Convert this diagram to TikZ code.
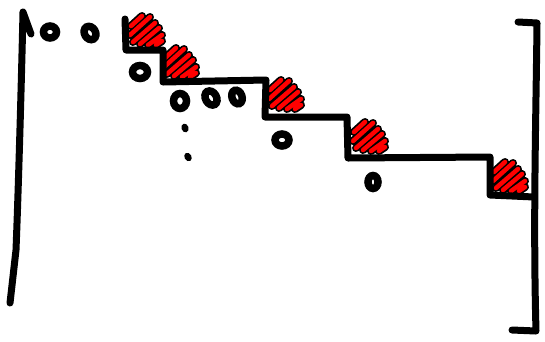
\documentclass[tikz,border=0pt]{standalone}
\tikzset{
  ink/.style={line width=7pt, line cap=round, line join=round, black},
  zero/.style={line width=7.5pt, black},
  hatch/.style={line width=4.5pt, red, line cap=round, preaction={draw=black, line width=8pt, line cap=round}},
  dot/.style={fill=black}
}
\newcommand{\myblob}[2]{%
  \begin{scope}[shift={(#1,#2)}]
    \draw[hatch] (4,12)--(15,2) (3,21)--(23,3) (6,28)--(28,9) (13,30)--(32,14) (21,31)--(35,21) (29,31)--(35,27);
  \end{scope}}
\begin{document}
\begin{tikzpicture}[x=1pt,y=-1pt]
\useasboundingbox (0,0) rectangle (545,341);
% left bracket
\draw[ink] (31,34) -- (23,12) .. controls (21,100) and (18,200) .. (16,250) -- (10,303);
% right bracket
\draw[ink] (518,22) -- (537,23) .. controls (536,120) and (533,220) .. (536,331) -- (512,330);
% red blobs (drawn first, staircase on top)
\myblob{127}{14}
\myblob{161}{46}
\myblob{266}{78}
\myblob{350}{120}
\myblob{490}{160}
% staircase
\coordinate (s0) at (125,19);
\coordinate (s1) at (126,50);
\coordinate (s2) at (163,50);
\coordinate (s3) at (163,82);
\coordinate (s4) at (266,80);
\coordinate (s5) at (265,117);
\coordinate (s6) at (347,117);
\coordinate (s7) at (348,158);
\coordinate (s8) at (490,157);
\coordinate (s9) at (490,195);
\coordinate (s10) at (534,197);
\draw[ink] (s0)--(s1)--(s2)--(s3)--(s4)--(s5)--(s6)--(s7)--(s8)--(s9)--(s10);
% zeros
\draw[zero] (50,32) ellipse [x radius=6.5, y radius=6];
\draw[zero,rotate around={30:(90,33)}] (90,33) ellipse [x radius=5.5, y radius=7];
\draw[zero] (140,72) ellipse [x radius=7.5, y radius=6.5];
\draw[zero] (180,101) ellipse [x radius=6.5, y radius=7.5];
\draw[zero,rotate around={30:(211,98)}] (211,98) ellipse [x radius=5.5, y radius=7.5];
\draw[zero,rotate around={20:(237,97)}] (237,97) ellipse [x radius=5, y radius=7];
\draw[zero] (282,140) ellipse [x radius=7, y radius=6];
\draw[zero] (373,182) ellipse [x radius=5, y radius=6.5];
% dots
\fill[dot,rotate around={20:(185,128)}] (185,128) ellipse [x radius=3.5, y radius=4.5];
\fill[dot,rotate around={30:(188,157)}] (188,157) ellipse [x radius=3.5, y radius=4.5];
\end{tikzpicture}
\end{document}
